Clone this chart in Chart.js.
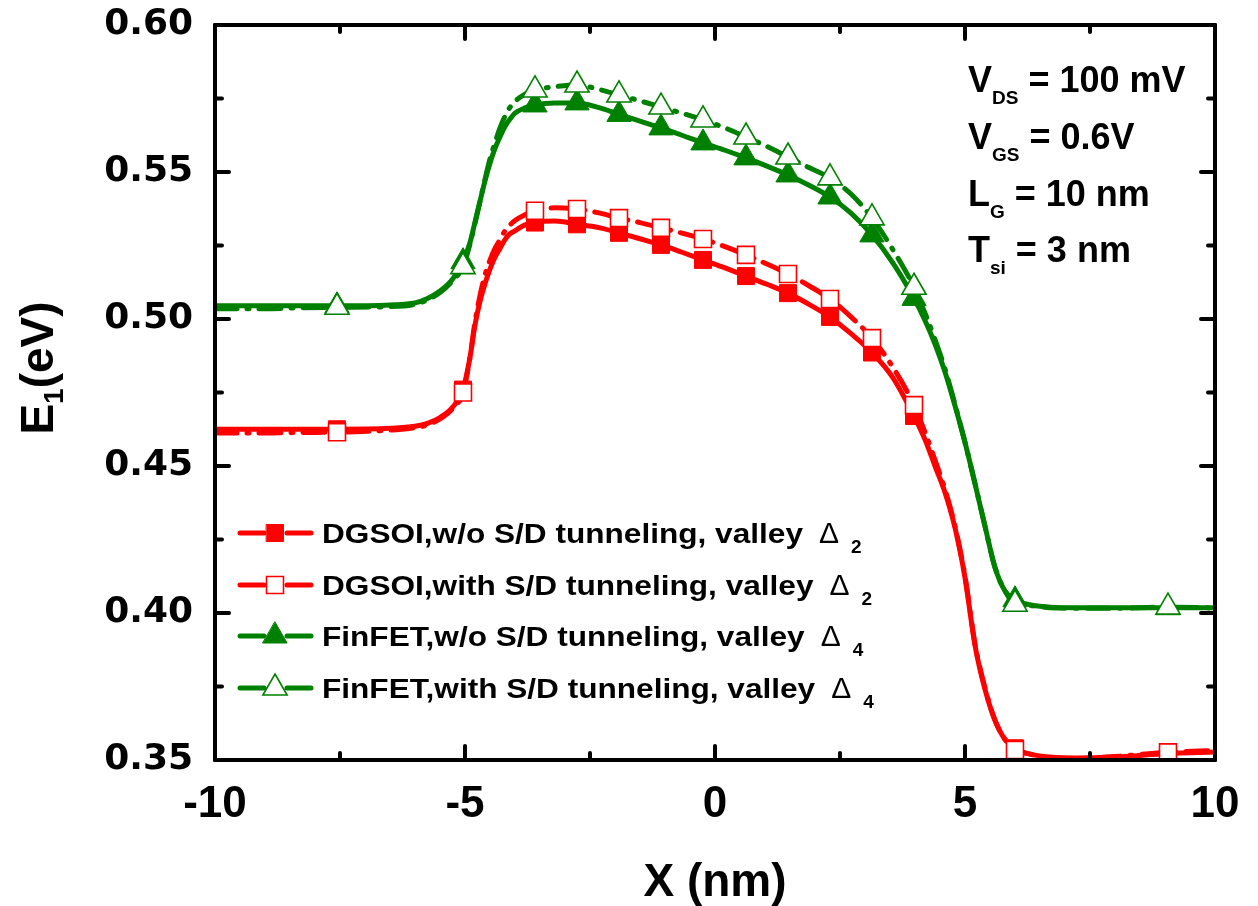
<!DOCTYPE html>
<html>
<head>
<meta charset="utf-8">
<script src="https://cdn.jsdelivr.net/npm/chart.js@4.4.1/dist/chart.umd.min.js"></script>
<style>
  html, body { margin: 0; padding: 0; background: #fff; }
  #wrap { width: 1258px; height: 906px; }
</style>
</head>
<body>
<div id="wrap"><canvas id="e1Chart" width="1258" height="906"></canvas></div>
<script>
// position along the channel (nm)
const xPos = [
  -10, -9, -8.3, -7.56, -6.5, -6, -5.75, -5.5, -5.25, -5.04,
  -4.9, -4.8, -4.7, -4.6, -4.5, -4.4, -4.3, -4.2, -4.1, -4.0,
  -3.8, -3.6, -3.2, -2.76, -2.3, -1.92, -1.5, -1.08, -0.66, -0.24,
  0.2, 0.62, 1.04, 1.46, 1.88, 2.3, 2.72, 3.14, 3.56, 3.98,
  4.2, 4.4, 4.6, 4.8, 5.0, 5.2, 5.4, 5.6, 5.8, 6.0,
  6.3, 6.7, 7.2, 8, 9.06, 10
];

// first subband energy E1 (eV)
const dgsoiNoTunnel = [
  0.4625, 0.4625, 0.4625, 0.4625, 0.4628, 0.4635, 0.4645, 0.4665, 0.4700, 0.4760,
  0.4870, 0.4980, 0.5060, 0.5120, 0.5170, 0.5210, 0.5240, 0.5270, 0.5290, 0.5300,
  0.5320, 0.5328, 0.5333, 0.5322, 0.5310, 0.5293, 0.5273, 0.5252, 0.5227, 0.5201,
  0.5174, 0.5146, 0.5118, 0.5088, 0.5050, 0.5007, 0.4950, 0.4886, 0.4800, 0.4670,
  0.4590, 0.4500, 0.4410, 0.4290, 0.4120, 0.3890, 0.3740, 0.3635, 0.3570, 0.3540,
  0.3520, 0.3510, 0.3507, 0.3510, 0.3522, 0.3527
];
const dgsoiTunnel = [
  0.4612, 0.4612, 0.4614, 0.4615, 0.4622, 0.4630, 0.4640, 0.4660, 0.4695, 0.4750,
  0.4870, 0.4990, 0.5080, 0.5150, 0.5200, 0.5240, 0.5270, 0.5300, 0.5320, 0.5335,
  0.5355, 0.5368, 0.5378, 0.5374, 0.5360, 0.5343, 0.5328, 0.5310, 0.5292, 0.5272,
  0.5246, 0.5218, 0.5187, 0.5153, 0.5113, 0.5068, 0.5007, 0.4935, 0.4835, 0.4707,
  0.4615, 0.4520, 0.4420, 0.4295, 0.4125, 0.3895, 0.3745, 0.3635, 0.3570, 0.3534,
  0.3520, 0.3508, 0.3505, 0.3512, 0.3526, 0.3532
];
const finfetNoTunnel = [
  0.5045, 0.5045, 0.5045, 0.5045, 0.5048, 0.5055, 0.5070, 0.5095, 0.5135, 0.5195,
  0.5260, 0.5330, 0.5400, 0.5470, 0.5530, 0.5580, 0.5620, 0.5655, 0.5680, 0.5700,
  0.5718, 0.5728, 0.5735, 0.5735, 0.5718, 0.5696, 0.5673, 0.5650, 0.5625, 0.5599,
  0.5574, 0.5548, 0.5520, 0.5490, 0.5455, 0.5415, 0.5360, 0.5286, 0.5190, 0.5070,
  0.4995, 0.4915, 0.4820, 0.4705, 0.4580, 0.4440, 0.4295, 0.4155, 0.4075, 0.4045,
  0.4028, 0.4020, 0.4018, 0.4018, 0.4018, 0.4018
];
const finfetTunnel = [
  0.5035, 0.5035, 0.5038, 0.5040, 0.5042, 0.5050, 0.5065, 0.5090, 0.5130, 0.5178,
  0.5255, 0.5325, 0.5400, 0.5475, 0.5545, 0.5600, 0.5650, 0.5690, 0.5720, 0.5740,
  0.5765, 0.5779, 0.5790, 0.5796, 0.5780, 0.5762, 0.5742, 0.5721, 0.5700, 0.5677,
  0.5650, 0.5619, 0.5587, 0.5551, 0.5515, 0.5480, 0.5425, 0.5344, 0.5235, 0.5108,
  0.5020, 0.4930, 0.4830, 0.4710, 0.4580, 0.4440, 0.4295, 0.4155, 0.4075, 0.4030,
  0.4025, 0.4018, 0.4016, 0.4016, 0.4020, 0.4017
];

// points that carry a symbol
const markIdx = [3, 9, 21, 23, 25, 27, 29, 31, 33, 35, 37, 39, 49, 54];

const xTicks = [-10, -5, 0, 5, 10];
const yTicks = [0.35, 0.40, 0.45, 0.50, 0.55, 0.60];

const seriesNames = [
  "DGSOI,w/o S/D tunneling, valley",
  "DGSOI,with S/D tunneling, valley",
  "FinFET,w/o S/D tunneling, valley",
  "FinFET,with S/D tunneling, valley"
];
const valleySubs = ["2", "2", "4", "4"];

// bias / geometry notes: [symbol, subscript, rest]
const notes = [
  ["V", "DS", " = 100 mV"],
  ["V", "GS", " = 0.6V"],
  ["L", "G", " = 10 nm"],
  ["T", "si", " = 3 nm"]
];

const RED = "#ff0000";
const GREEN = "#008000";
const DASH = [22, 10, 2, 10];
const markSet = new Set(markIdx);

function pts(ys) {
  return xPos.map((x, i) => ({ x: x, y: ys[i] }));
}

// open-symbol (tunneling) curves get a lower order so they sit on top
function series(label, ys, color, dashed, style, filled, r, order) {
  return {
    label: label,
    data: pts(ys),
    order: order,
    showLine: true,
    borderColor: color,
    borderWidth: 5,
    borderDash: dashed ? DASH : [],
    borderCapStyle: "round",
    cubicInterpolationMode: "monotone",
    pointStyle: style,
    pointRadius: (c) => (markSet.has(c.dataIndex) ? r : 0),
    pointHoverRadius: 0,
    pointBackgroundColor: filled ? color : "#ffffff",
    pointBorderColor: color,
    pointBorderWidth: filled ? 1 : 1.6,
  };
}

const datasets = [
  series(seriesNames[0], dgsoiNoTunnel, RED, false, "rect", true, 12, 3),
  series(seriesNames[1], dgsoiTunnel, RED, true, "rect", false, 12, 1),
  series(seriesNames[2], finfetNoTunnel, GREEN, false, "triangle", true, 14, 2),
  series(seriesNames[3], finfetTunnel, GREEN, true, "triangle", false, 14, 0),
];

function seg(ctx, x1, y1, x2, y2) {
  ctx.beginPath();
  ctx.moveTo(x1, y1);
  ctx.lineTo(x2, y2);
  ctx.stroke();
}

// frame with inward major/minor ticks on all four sides
const frameTicks = {
  id: "frameTicks",
  afterDatasetsDraw(chart) {
    const { ctx, chartArea: a, scales } = chart;
    const sx = scales.x, sy = scales.y;
    ctx.save();
    ctx.strokeStyle = "#000";
    ctx.lineCap = "round";
    ctx.lineWidth = 4;
    const major = 14, minor = 7;
    sx.ticks.forEach((t, i) => {
      const px = sx.getPixelForValue(t.value);
      seg(ctx, px, a.bottom, px, a.bottom - major);
      seg(ctx, px, a.top, px, a.top + major);
      if (i < sx.ticks.length - 1) {
        const pm = sx.getPixelForValue((t.value + sx.ticks[i + 1].value) / 2);
        seg(ctx, pm, a.bottom, pm, a.bottom - minor);
        seg(ctx, pm, a.top, pm, a.top + minor);
      }
    });
    sy.ticks.forEach((t, i) => {
      const py = sy.getPixelForValue(t.value);
      seg(ctx, a.left, py, a.left + major, py);
      seg(ctx, a.right, py, a.right - major, py);
      if (i < sy.ticks.length - 1) {
        const pm = sy.getPixelForValue((t.value + sy.ticks[i + 1].value) / 2);
        seg(ctx, a.left, pm, a.left + minor, pm);
        seg(ctx, a.right, pm, a.right - minor, pm);
      }
    });
    ctx.lineJoin = "round";
    ctx.strokeRect(a.left, a.top, a.right - a.left, a.bottom - a.top);
    ctx.restore();
  }
};

// text with a lowered subscript part, returns end x
function subText(ctx, x, y, main, sub, rest, big, small, drop) {
  ctx.font = "bold " + big + "px 'Liberation Sans', Arial, sans-serif";
  ctx.fillText(main, x, y);
  x += ctx.measureText(main).width;
  ctx.font = "bold " + small + "px 'Liberation Sans', Arial, sans-serif";
  ctx.fillText(sub, x, y + drop);
  x += ctx.measureText(sub).width;
  ctx.font = "bold " + big + "px 'Liberation Sans', Arial, sans-serif";
  ctx.fillText(rest, x, y);
  return x + ctx.measureText(rest).width;
}

const textLayer = {
  id: "textLayer",
  afterDraw(chart) {
    const { ctx, chartArea: a } = chart;
    ctx.save();
    ctx.fillStyle = "#000";
    ctx.textBaseline = "alphabetic";
    ctx.textAlign = "left";

    // axis titles
    ctx.font = "bold 46px 'Liberation Sans', Arial, sans-serif";
    ctx.textAlign = "center";
    ctx.fillText("X (nm)", (a.left + a.right) / 2, 896);
    ctx.textAlign = "left";

    ctx.save();
    ctx.translate(53, 368);
    ctx.rotate(-Math.PI / 2);
    ctx.font = "bold 46px 'Liberation Sans', Arial, sans-serif";
    const wE = ctx.measureText("E").width;
    const wRest = ctx.measureText("(eV)").width;
    ctx.font = "bold 28px 'Liberation Sans', Arial, sans-serif";
    const w1 = ctx.measureText("1").width;
    subText(ctx, -(wE + w1 + wRest) / 2, 0, "E", "1", "(eV)", 46, 28, 10);
    ctx.restore();

    // bias notes, top right
    const noteBase = [92, 149, 206, 262];
    notes.forEach((n, i) => {
      subText(ctx, 968, noteBase[i], n[0], n[1], n[2], 36, 19, 12);
    });

    // legend
    const rowBase = [543, 595, 646, 698];
    chart.data.datasets.forEach((ds, i) => {
      const yb = rowBase[i];
      const yl = yb - 10;
      ctx.save();
      ctx.strokeStyle = ds.borderColor;
      ctx.lineWidth = 5;
      ctx.lineCap = "round";
      seg(ctx, 240, yl, 264, yl);
      seg(ctx, 287, yl, 311, yl);
      ctx.fillStyle = ds.pointBackgroundColor;
      ctx.strokeStyle = ds.pointBorderColor;
      ctx.lineWidth = ds.pointBorderWidth;
      Chart.helpers.drawPoint(ctx, {
        pointStyle: ds.pointStyle,
        radius: ds.pointStyle === "rect" ? 12 : 14,
        rotation: 0,
        borderWidth: ds.pointBorderWidth
      }, 275, yl);
      ctx.restore();

      ctx.save();
      ctx.fillStyle = "#000";
      ctx.font = "bold 27px 'Liberation Sans', Arial, sans-serif";
      const sxScale = 1.17;
      ctx.translate(322, yb);
      ctx.scale(sxScale, 1);
      ctx.fillText(ds.label, 0, 0);
      const wt = ctx.measureText(ds.label).width * sxScale;
      ctx.restore();

      let xd = 322 + wt + 16;
      ctx.font = "30px 'Liberation Sans', Arial, sans-serif";
      ctx.fillText("\u0394", xd, yb);
      xd += ctx.measureText("\u0394").width + 12;
      ctx.font = "bold 19px 'Liberation Sans', Arial, sans-serif";
      ctx.fillText(valleySubs[i], xd, yb + 10);
    });
    ctx.restore();
  }
};

new Chart(document.getElementById("e1Chart"), {
  type: "scatter",
  data: { datasets: datasets },
  options: {
    responsive: false,
    animation: false,
    devicePixelRatio: 1,
    layout: { padding: { top: 25, right: 43, left: 0, bottom: 0 } },
    plugins: {
      legend: { display: false },
      tooltip: { enabled: false },
      title: { display: false }
    },
    scales: {
      x: {
        type: "linear",
        min: -10,
        max: 10,
        grid: { display: false, drawTicks: false },
        border: { display: false },
        afterBuildTicks: (s) => { s.ticks = xTicks.map((v) => ({ value: v })); },
        afterFit: (s) => { s.height = 146; s.paddingLeft = 0; s.paddingRight = 0; },
        ticks: {
          color: "#000",
          padding: 18,
          maxRotation: 0,
          autoSkip: false,
          font: { family: "'Liberation Sans', Arial, sans-serif", size: 44, weight: "bold" },
          callback: (v) => String(v)
        }
      },
      y: {
        type: "linear",
        min: 0.35,
        max: 0.60,
        grid: { display: false, drawTicks: false },
        border: { display: false },
        afterBuildTicks: (s) => { s.ticks = yTicks.map((v) => ({ value: v })); },
        afterFit: (s) => { s.width = 215; s.paddingTop = 0; s.paddingBottom = 0; },
        ticks: {
          color: "#000",
          padding: 22,
          autoSkip: false,
          font: { family: "'DejaVu Sans', sans-serif", size: 36, weight: "bold" },
          callback: (v) => v.toFixed(2)
        }
      }
    }
  },
  plugins: [frameTicks, textLayer]
});
</script>
</body>
</html>
